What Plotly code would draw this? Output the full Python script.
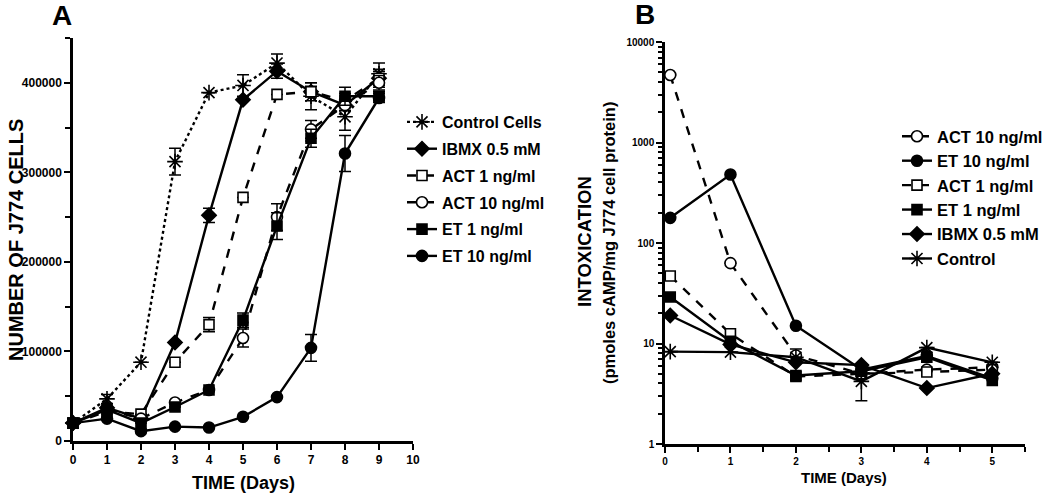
import plotly.graph_objects as go

# ---------------- Panel A data ----------------
days_a = [0, 1, 2, 3, 4, 5, 6, 7, 8, 9]
control_cells = [20000, 47000, 88000, 312000, 389000, 397000, 422000, 385000, 362000, 410000]
control_cells_err = [0, 5000, 0, 15000, 0, 12000, 10000, 15000, 15000, 12000]
ibmx_a = [20000, 37000, 25000, 110000, 252000, 381000, 413000, 390000, 375000, 405000]
ibmx_a_err = [0, 0, 0, 0, 8000, 0, 8000, 6000, 6000, 8000]
act1_a = [20000, 33000, 30000, 88000, 130000, 272000, 387000, 390000, 380000, 405000]
act1_a_err = [0, 0, 0, 0, 8000, 0, 0, 10000, 8000, 10000]
act10_a = [20000, 35000, 25000, 43000, 57000, 115000, 250000, 348000, 375000, 400000]
act10_a_err = [0, 0, 0, 0, 0, 10000, 15000, 10000, 6000, 8000]
et1_a = [20000, 35000, 20000, 38000, 57000, 135000, 240000, 338000, 385000, 385000]
et1_a_err = [0, 0, 0, 0, 0, 8000, 15000, 10000, 10000, 5000]
et10_a = [20000, 25000, 11000, 16000, 15000, 27000, 49000, 104000, 321000, 383000]
et10_a_err = [0, 0, 0, 0, 0, 0, 0, 15000, 20000, 5000]
yticks_a = [0, 100000, 200000, 300000, 400000]

# ---------------- Panel B data ----------------
days_b = [0.08, 1, 2, 3, 4, 5]
act10_b = [4700, 63, 7.6, 5.0, 5.5, 5.8]
act10_b_err = [0, 0, 1.2, 0, 0, 0]
et10_b = [178, 480, 15, 5.5, 7.5, 4.5]
act1_b = [47, 12.5, 4.7, 5.0, 5.2, 5.5]
et1_b = [29, 10.5, 4.8, 5.3, 7.3, 4.3]
ibmx_b = [19, 9.8, 6.5, 6.1, 3.6, 5.0]
control_b = [8.3, 8.2, 7.3, 4.2, 9.1, 6.5]
control_b_up = [0, 0, 0, 1.8, 0, 0]
control_b_down = [0, 0, 0, 1.5, 0, 0]
yticks_b = [1, 10, 100, 1000, 10000]

FONT = "Liberation Sans, Arial, sans-serif"
BLACK = "black"

W, H = 1050, 495


def px(x):
    return x / W


def py(y):
    return 1 - y / H


fig = go.Figure()


def add(x, y, name, symbol, dash, legend, xa, ya, err=None, errminus=None, size=10, fill=True):
    mk = dict(symbol=symbol, size=size, color=BLACK if fill else "white",
              line=dict(color=BLACK, width=1.6))
    if symbol.startswith("asterisk"):
        mk = dict(symbol="asterisk-open", size=size + 3, color=BLACK, line=dict(color=BLACK, width=1.6))
    ey = None
    if err is not None:
        ey = dict(type="data", array=err, symmetric=errminus is None,
                  arrayminus=errminus if errminus is not None else None,
                  color=BLACK, thickness=1.5, width=6)
    fig.add_trace(go.Scatter(
        x=x, y=y, name=name, mode="lines+markers",
        line=dict(color=BLACK, width=2.4, dash=dash),
        marker=mk, error_y=ey, xaxis=xa, yaxis=ya,
        legend=legend, legendgroup=legend + name, cliponaxis=False,
    ))


# Panel A traces
add(days_a, control_cells, "Control Cells", "asterisk", "dot", "legend", "x", "y", control_cells_err)
add(days_a, ibmx_a, "IBMX 0.5 mM", "diamond", "solid", "legend", "x", "y", ibmx_a_err, size=11)
add(days_a, act1_a, "ACT 1 ng/ml", "square", "dash", "legend", "x", "y", act1_a_err, fill=False)
add(days_a, act10_a, "ACT 10 ng/ml", "circle", "dash", "legend", "x", "y", act10_a_err, size=11, fill=False)
add(days_a, et1_a, "ET 1 ng/ml", "square", "solid", "legend", "x", "y", et1_a_err)
add(days_a, et10_a, "ET 10 ng/ml", "circle", "solid", "legend", "x", "y", et10_a_err, size=11)

# Panel B traces
add(days_b, act10_b, "ACT 10 ng/ml", "circle", "dash", "legend2", "x2", "y2", act10_b_err, size=11, fill=False)
add(days_b, et10_b, "ET 10 ng/ml", "circle", "solid", "legend2", "x2", "y2", size=11)
add(days_b, act1_b, "ACT 1 ng/ml", "square", "dash", "legend2", "x2", "y2", fill=False)
add(days_b, et1_b, "ET 1 ng/ml", "square", "solid", "legend2", "x2", "y2")
add(days_b, ibmx_b, "IBMX 0.5 mM", "diamond", "solid", "legend2", "x2", "y2", size=11)
add(days_b, control_b, "Control", "asterisk", "solid", "legend2", "x2", "y2", control_b_up, control_b_down)


def axstyle(size):
    return dict(showgrid=False, zeroline=False, showline=True, linecolor=BLACK, linewidth=2.5,
                ticks="outside", tickcolor=BLACK, tickwidth=2, ticklen=6, automargin=False,
                tickfont=dict(family=FONT, size=size, color=BLACK, weight="bold"))


def ann(text, x, y, size, angle=0):
    return dict(text=text, x=px(x), y=py(y), xref="paper", yref="paper",
                showarrow=False, textangle=angle, xanchor="center", yanchor="middle",
                font=dict(family=FONT, size=size, weight="bold", color=BLACK))


fig.update_layout(
    width=W, height=H,
    margin=dict(l=0, r=0, t=0, b=0, autoexpand=False),
    paper_bgcolor="white", plot_bgcolor="white",
    font=dict(family=FONT, color=BLACK),
    xaxis=dict(domain=[px(73), px(413)], range=[0, 10], tickmode="array",
               tickvals=list(range(11)), anchor="y", **axstyle(12)),
    yaxis=dict(domain=[py(441), py(38)], range=[0, 450000], tickmode="array",
               tickvals=yticks_a, ticktext=[str(v) for v in yticks_a], anchor="x",
               minor=dict(ticks="outside", tickvals=[50000, 150000, 250000, 350000, 450000],
                          ticklen=5, tickwidth=2, tickcolor=BLACK),
               **axstyle(12)),
    xaxis2=dict(domain=[px(665), px(1025)], range=[0, 5.5], tickmode="array",
                tickvals=[0, 1, 2, 3, 4, 5], anchor="y2",
                minor=dict(ticks="outside", tickvals=[0.5, 1.5, 2.5, 3.5, 4.5, 5.5],
                           ticklen=5, tickwidth=2, tickcolor=BLACK),
                **axstyle(10)),
    yaxis2=dict(domain=[py(444), py(42)], type="log", range=[0, 4], tickmode="array",
                tickvals=yticks_b, ticktext=[str(v) for v in yticks_b], anchor="x2",
                minor=dict(ticks="outside",
                           tickvals=[m * 10 ** d for d in range(4) for m in range(2, 10)],
                           ticklen=4, tickwidth=1.5, tickcolor=BLACK),
                **axstyle(10)),
    legend=dict(x=px(402), y=py(105), xanchor="left", yanchor="top", bgcolor="rgba(0,0,0,0)",
                font=dict(family=FONT, size=16, color=BLACK, weight="bold"),
                tracegroupgap=3, itemwidth=30),
    legend2=dict(x=px(897), y=py(119), xanchor="left", yanchor="top", bgcolor="rgba(0,0,0,0)",
                 font=dict(family=FONT, size=16.5, color=BLACK, weight="bold"),
                 tracegroupgap=0, itemwidth=30),
    showlegend=True,
    annotations=[
        ann("A", 62, 16, 28),
        ann("B", 645, 15, 28),
        ann("NUMBER OF J774 CELLS", 16, 240, 20, -90),
        ann("TIME (Days)", 243, 483, 18),
        ann("INTOXICATION", 584, 242, 18.5, -90),
        ann("(pmoles cAMP/mg J774 cell protein)", 609, 243, 16.5, -90),
        ann("TIME (Days)", 844, 477, 15),
    ],
)

# the page body's default 8px margin is removed so the figure fills the window
fig.write_html("out.html", config={"displayModeBar": False},
               post_script="document.body.style.margin='0px';")
